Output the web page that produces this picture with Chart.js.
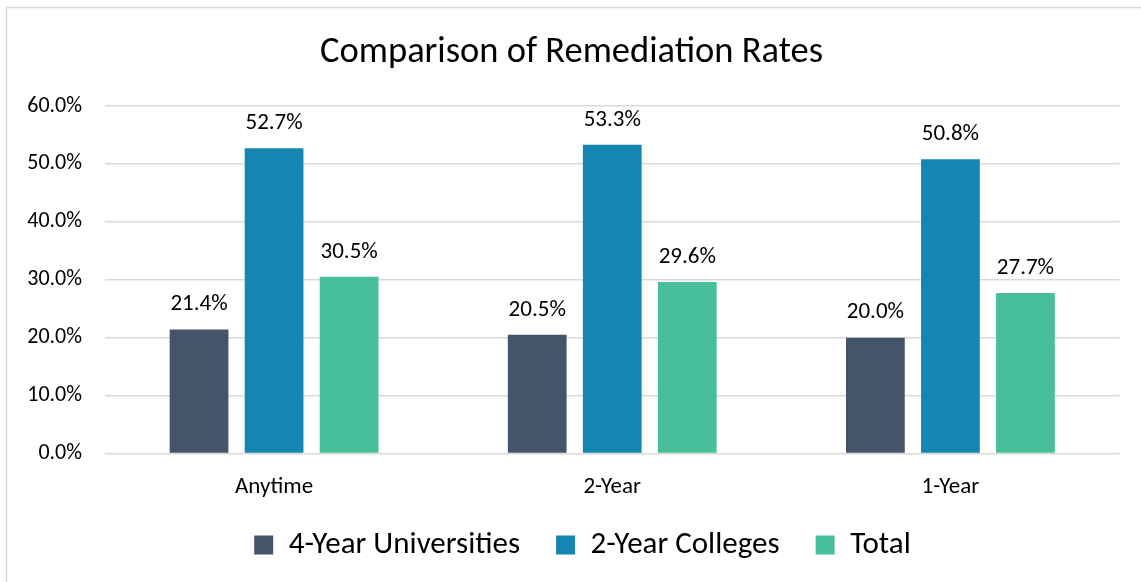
<!DOCTYPE html>
<html>
<head>
<meta charset="utf-8">
<script src="https://cdn.jsdelivr.net/npm/chart.js@4.4.1/dist/chart.umd.min.js"></script>
<style>
  html, body { margin: 0; padding: 0; background: #ffffff; }
  #wrap { width: 1141px; height: 582px; position: relative; }
</style>
</head>
<body>
<div id="wrap"><canvas id="c" width="1141" height="582"></canvas></div>
<script>
const categories = ['Anytime', '2-Year', '1-Year'];
const seriesNames = ['4-Year Universities', '2-Year Colleges', 'Total'];
const universities4 = [21.4, 20.5, 20.0];
const colleges2 = [52.7, 53.3, 50.8];
const totals = [30.5, 29.6, 27.7];
const yTickLabels = ['0.0%', '10.0%', '20.0%', '30.0%', '40.0%', '50.0%', '60.0%'];
const titleText = 'Comparison of Remediation Rates';

const FONT = 'Carlito, Calibri, Lato, sans-serif';
const colors = ['#44546A', '#1586B2', '#47BF9A'];

const frame = {
  id: 'frame',
  beforeDraw(chart) {
    const ctx = chart.ctx;
    ctx.save();
    ctx.fillStyle = '#ffffff';
    ctx.fillRect(0, 0, chart.width, chart.height);
    ctx.strokeStyle = '#D9D9D9';
    ctx.lineWidth = 1.5;
    ctx.strokeRect(6.5, 7.5, chart.width + 20, chart.height + 20);
    ctx.restore();
  }
};

// nudge the legend block to where the original places it
const legendNudge = {
  id: 'legendNudge',
  afterLayout(chart) {
    const l = chart.legend;
    if (!l) return;
    l.top -= 9; l.bottom -= 9;
    l.left += 11; l.right += 11;
  }
};

const valueLabels = {
  id: 'valueLabels',
  afterDatasetsDraw(chart) {
    const ctx = chart.ctx;
    ctx.save();
    ctx.font = '23px ' + FONT;
    ctx.fillStyle = '#000000';
    ctx.textAlign = 'center';
    ctx.textBaseline = 'middle';
    chart.data.datasets.forEach((ds, di) => {
      chart.getDatasetMeta(di).data.forEach((bar, i) => {
        ctx.fillText(ds.data[i].toFixed(1) + '%', bar.x, bar.y - 25);
      });
    });
    ctx.restore();
  }
};

new Chart(document.getElementById('c'), {
  type: 'bar',
  data: {
    labels: categories,
    datasets: [
      { label: seriesNames[0], data: universities4, backgroundColor: colors[0] },
      { label: seriesNames[1], data: colleges2, backgroundColor: colors[1] },
      { label: seriesNames[2], data: totals, backgroundColor: colors[2] }
    ]
  },
  options: {
    responsive: false,
    animation: false,
    devicePixelRatio: 1,
    categoryPercentage: 0.6657,
    barPercentage: 0.783,
    layout: { padding: { left: 23.5, right: 21.5, top: 0, bottom: 2.5 } },
    plugins: {
      title: {
        display: true,
        text: titleText,
        color: '#000000',
        font: { family: FONT, size: 36.5, weight: 'normal', lineHeight: 1.2 },
        padding: { top: 30.6, bottom: 31.6 }
      },
      legend: {
        display: true,
        position: 'bottom',
        labels: {
          boxWidth: 19,
          boxHeight: 19,
          padding: 36,
          color: '#000000',
          font: { family: FONT, size: 31 }
        }
      },
      tooltip: { enabled: false }
    },
    scales: {
      x: {
        grid: { display: false, drawTicks: false },
        border: { display: false },
        ticks: { color: '#000000', padding: 20, font: { family: FONT, size: 23 } },
        afterFit(s) { s.height = 49; }
      },
      y: {
        min: 0,
        max: 60,
        ticks: {
          stepSize: 10,
          color: '#000000',
          padding: 23,
          font: { family: FONT, size: 22 },
          callback: (v, i) => yTickLabels[i]
        },
        grid: { color: '#D9D9D9', lineWidth: 1.5, drawTicks: false },
        border: { display: false },
        afterFit(s) { s.width = 81.5; }
      }
    }
  },
  plugins: [frame, legendNudge, valueLabels]
});
</script>
</body>
</html>
